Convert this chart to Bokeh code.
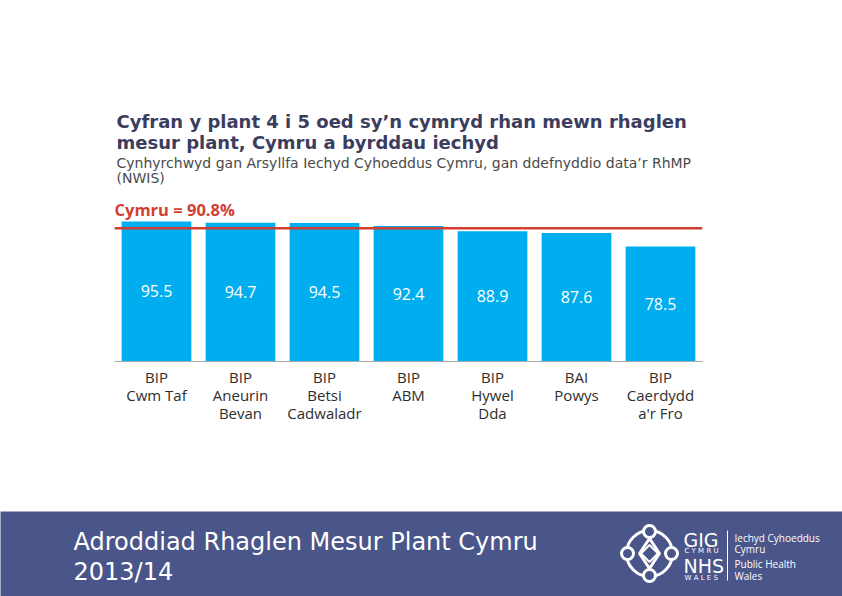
from bokeh.plotting import figure
from bokeh.models import Range1d, FactorRange, Label, Span, ColumnDataSource
from bokeh.layouts import column
from bokeh.embed import file_html
from bokeh.resources import INLINE
from bokeh.core.properties import value

# ---- data ----
categories = ["BIP\nCwm Taf", "BIP\nAneurin\nBevan", "BIP\nBetsi\nCadwaladr", "BIP\nABM",
              "BIP\nHywel\nDda", "BAI\nPowys", "BIP\nCaerdydd\na'r Fro"]
rates = [95.5, 94.7, 94.5, 92.4, 88.9, 87.6, 78.5]
wales_rate = 90.8
title_lines = ["Cyfran y plant 4 i 5 oed sy\u2019n cymryd rhan mewn rhaglen",
               "mesur plant, Cymru a byrddau iechyd"]
subtitle_lines = ["Cynhyrchwyd gan Arsyllfa Iechyd Cyhoeddus Cymru, gan ddefnyddio data\u2019r RhMP",
                  "(NWIS)"]
wales_label = "Cymru = 90.8%"
footer_lines = ["Adroddiad Rhaglen Mesur Plant Cymru", "2013/14"]

BAR = "#00aeef"
RED = "#d23f31"
BAND = "#4a5589"

source = ColumnDataSource(dict(
    cat=categories,
    rate=rates,
    mid=[r / 2 for r in rates],
    lab=[f"{r:.1f}" for r in rates],
))

TOP = 100      # frame top in page px
BOT = 361      # frame bottom in page px
YMAX = 178
p = figure(x_range=FactorRange(*categories), y_range=Range1d(0, YMAX),
           width=842, height=511, output_backend="svg", toolbar_location=None,
           min_border_left=114, min_border_right=140, min_border_top=TOP,
           min_border_bottom=511 - BOT)
p.frame_align = False
p.outline_line_color = None
p.grid.visible = False
p.yaxis.visible = False
p.background_fill_color = "white"

p.vbar(x="cat", top="rate", width=0.83, source=source, fill_color=BAR,
       line_color=None)
p.text(x="cat", y="mid", text="lab", source=source, text_color="white",
       text_align="center", text_baseline="middle",
       text_font=value("Open Sans"), text_font_size="16px")

p.add_layout(Span(location=wales_rate, dimension="width", line_color=RED,
                  line_width=2.5))

ax = p.xaxis[0]
ax.axis_line_color = "#aaaaaa"
ax.axis_line_width = 1
ax.major_tick_line_color = None
ax.minor_tick_line_color = None
ax.major_tick_out = 0
ax.major_label_standoff = 5
ax.major_label_text_font = "Open Sans"
ax.major_label_text_font_size = "15px"
ax.major_label_text_color = "#2e2e2e"
ax.major_label_text_line_height = 0.9

PXU = (BOT - TOP) / YMAX

def ydat(page_y):
    # page pixel y (from top) -> data y
    return YMAX - (page_y - TOP) / PXU

for txt, py in zip(title_lines, [121, 142]):
    p.add_layout(Label(x=0.024, y=ydat(py), text=txt, text_font="DejaVu Sans",
                       text_font_style="bold", text_font_size="18px",
                       text_color="#3b3d5e", text_baseline="middle"))
for txt, py in zip(subtitle_lines, [162, 177]):
    p.add_layout(Label(x=0.024, y=ydat(py), text=txt, text_font="DejaVu Sans",
                       text_font_size="14px", text_color="#4a4a4a",
                       text_baseline="middle"))
p.add_layout(Label(x=0.0, y=ydat(209), text=wales_label, text_font="Open Sans",
                   text_font_style="bold", text_font_size="16.5px",
                   text_color=RED, text_baseline="middle"))

# ---- footer band ----
f = figure(width=842, height=85, x_range=Range1d(0, 842), y_range=Range1d(0, 85),
           output_backend="svg", toolbar_location=None, min_border=0)
f.frame_align = False
f.axis.visible = False
f.grid.visible = False
f.outline_line_color = None
f.background_fill_color = BAND
f.border_fill_color = BAND

f.text(x=[73, 73], y=[55, 25], text=footer_lines, text_color="white",
       text_font=value("DejaVu Sans"), text_font_size="24px",
       text_baseline="middle")

# emblem approximation
cx, cy = 649, 43
f.circle(x=[cx], y=[cy], radius=23, fill_color=None, line_color="white", line_width=3)
f.scatter(x=[cx], y=[cy], size=30, marker="diamond", fill_color=None,
          line_color="white", line_width=3)
f.scatter(x=[cx], y=[cy], size=12, marker="square", fill_color=None,
          line_color="white", line_width=2, angle=0.785)
f.circle(x=[cx - 22, cx + 22, cx, cx], y=[cy, cy, cy + 22, cy - 22], radius=6,
         fill_color=BAND, line_color="white", line_width=3)

f.text(x=[683], y=[57], text=["GIG"], text_color="white",
       text_font=value("DejaVu Sans"), text_font_size="19px", text_baseline="middle")
f.text(x=[684], y=[46], text=["C Y M R U"], text_color="white",
       text_font=value("DejaVu Sans"), text_font_size="7px", text_baseline="middle")
f.text(x=[683], y=[31], text=["NHS"], text_color="white",
       text_font=value("DejaVu Sans"), text_font_size="19px", text_baseline="middle")
f.text(x=[684], y=[19], text=["W A L E S"], text_color="white",
       text_font=value("DejaVu Sans"), text_font_size="7px", text_baseline="middle")
f.segment(x0=[727], y0=[16], x1=[727], y1=[66], line_color="white", line_width=1)
f.text(x=[734, 734, 734, 734], y=[59, 48, 33, 21],
       text=["Iechyd Cyhoeddus", "Cymru", "Public Health", "Wales"],
       text_color="white", text_font=value("Open Sans"), text_font_size="10px",
       text_baseline="middle")

layout = column(p, f, spacing=0)
open("out.html", "w").write(file_html(layout, INLINE))
